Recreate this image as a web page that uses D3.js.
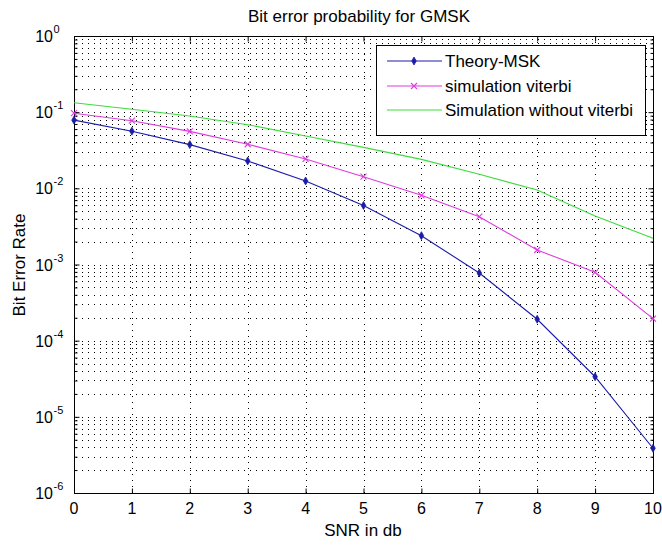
<!DOCTYPE html>
<html><head><meta charset="utf-8">
<script src="https://cdn.jsdelivr.net/npm/d3@7"></script>
<style>
html,body{margin:0;padding:0;background:#fff;}
svg{display:block;font-family:"Liberation Sans",Arial,Helvetica,sans-serif;}
</style></head>
<body>
<svg id="chart" width="662" height="545"></svg>
<script>
const snr = [0,1,2,3,4,5,6,7,8,9,10];
const theoryMSK = [0.0786,0.0563,0.0375,0.0229,0.0125,0.00595,0.00239,0.000773,0.000191,0.0000336,0.00000387];
const simViterbi = [0.097,0.0773,0.056,0.0379,0.0243,0.0142,0.0081,0.00424,0.00155,0.00079,0.000195];
const simNoViterbi = [0.133,0.109,0.089,0.0685,0.0487,0.0345,0.024,0.0153,0.0095,0.00433,0.00221];
const xTicks = [0,1,2,3,4,5,6,7,8,9,10];
const yExponents = [0,-1,-2,-3,-4,-5,-6];
const seriesNames = ["Theory-MSK","simulation viterbi","Simulation without viterbi"];
const titleText = "Bit error probability for GMSK";
const xLabel = "SNR in db";
const yLabel = "Bit Error Rate";

const colors = ["#1c1caa","#e03ae0","#3ddc3d"];
const L = 74, R = 653, T = 36, B = 493;
const svg = d3.select("#chart");
const x = d3.scaleLinear().domain([0,10]).range([L,R]);
const y = d3.scaleLog().domain([1e-6,1]).range([B,T]);

// grid
const grid = svg.append("g").attr("stroke","#000").attr("stroke-width",1)
  .attr("stroke-dasharray","1,5").attr("fill","none");
xTicks.slice(1,-1).forEach(v=>{
  grid.append("line").attr("x1",Math.round(x(v))+0.5).attr("x2",Math.round(x(v))+0.5)
    .attr("y1",T).attr("y2",B);
});
const yGridVals = [];
for (let e=-6;e<0;e++){ for(let m=1;m<10;m++){ yGridVals.push(m*Math.pow(10,e)); } }
yGridVals.filter(v=>v>1e-6).forEach(v=>{
  const yy = Math.round(y(v))+0.5;
  grid.append("line").attr("x1",L+2).attr("x2",R).attr("y1",yy).attr("y2",yy);
});

// axes with ticks inward
const axisBottom = d3.axisBottom(x).tickValues(xTicks).tickSizeInner(-5).tickSizeOuter(0).tickFormat("");
const axisTop = d3.axisTop(x).tickValues(xTicks).tickSizeInner(-5).tickSizeOuter(0).tickFormat("");
svg.append("g").attr("transform",`translate(0,${B+0.5})`).call(axisBottom);
svg.append("g").attr("transform",`translate(0,${T+0.5})`).call(axisTop);
const majorY = yExponents.map(e=>Math.pow(10,e));
const minorY = yGridVals.filter(v=>!majorY.some(m=>Math.abs(m-v)/v<1e-9));
svg.append("g").attr("transform",`translate(${L+0.5},0)`).call(d3.axisLeft(y).tickValues(majorY).tickSizeInner(-5).tickSizeOuter(0).tickFormat(""));
svg.append("g").attr("transform",`translate(${R+0.5},0)`).call(d3.axisRight(y).tickValues(majorY).tickSizeInner(-5).tickSizeOuter(0).tickFormat(""));
svg.append("g").attr("transform",`translate(${L+0.5},0)`).call(d3.axisLeft(y).tickValues(minorY).tickSizeInner(-3).tickSizeOuter(0).tickFormat(""));
svg.append("g").attr("transform",`translate(${R+0.5},0)`).call(d3.axisRight(y).tickValues(minorY).tickSizeInner(-3).tickSizeOuter(0).tickFormat(""));
svg.selectAll(".domain").remove();
svg.selectAll(".tick line").attr("stroke","#000");
svg.append("rect").attr("x",L+0.5).attr("y",T+0.5).attr("width",R-L).attr("height",B-T)
  .attr("fill","none").attr("stroke","#000").attr("stroke-width",1);

// tick labels
svg.append("g").selectAll("text").data(xTicks).join("text")
  .attr("x",d=>x(d)).attr("y",514).attr("text-anchor","middle")
  .attr("font-size",16).attr("fill","#000").text(d=>d);
const yl = svg.append("g");
yExponents.forEach(e=>{
  const yy = y(Math.pow(10,e));
  yl.append("text").attr("x",53).attr("y",yy+6).attr("text-anchor","end")
    .attr("font-size",16).attr("fill","#000").text("10");
  yl.append("text").attr("x",53.5).attr("y",yy-3).attr("text-anchor","start")
    .attr("font-size",11).attr("fill","#000").text(e===0?"0":"-"+(-e));
});

// lines
const line = d3.line().x((d,i)=>x(snr[i])).y(d=>y(d));
const data = [theoryMSK, simViterbi, simNoViterbi];
const plot = svg.append("g");
data.forEach((vals,k)=>{
  plot.append("path").attr("d",line(vals)).attr("fill","none")
    .attr("stroke",colors[k]).attr("stroke-width",1.1);
});
function dot(g,cx,cy,c){
  g.append("path").attr("d",d3.symbol(d3.symbolDiamond,18)()).attr("transform",`translate(${cx},${cy})`)
    .attr("fill",c).attr("stroke",c).attr("stroke-width",0.8);
}
function cross(g,cx,cy,c){
  const s=3;
  g.append("path").attr("d",`M${cx-s},${cy-s}L${cx+s},${cy+s}M${cx-s},${cy+s}L${cx+s},${cy-s}`)
    .attr("stroke",c).attr("stroke-width",1.1).attr("fill","none");
}
theoryMSK.forEach((v,i)=>dot(plot,x(snr[i]),y(v),colors[0]));
simViterbi.forEach((v,i)=>cross(plot,x(snr[i]),y(v),colors[1]));

// legend
const lg = svg.append("g");
lg.append("rect").attr("x",376.5).attr("y",45.5).attr("width",269).attr("height",90)
  .attr("fill","#fff").attr("stroke","#000").attr("stroke-width",1);
const rows=[61,86,110];
seriesNames.forEach((n,k)=>{
  lg.append("line").attr("x1",387).attr("x2",442).attr("y1",rows[k]).attr("y2",rows[k])
    .attr("stroke",colors[k]).attr("stroke-width",1.1);
  if(k===0) dot(lg,414,rows[k],colors[0]);
  if(k===1) cross(lg,414,rows[k],colors[1]);
  lg.append("text").attr("x",445).attr("y",rows[k]+6).attr("font-size",17).attr("fill","#000").text(n);
});

// titles
svg.append("text").attr("x",359).attr("y",22).attr("text-anchor","middle")
  .attr("font-size",17).attr("fill","#000").text(titleText);
svg.append("text").attr("x",363).attr("y",536).attr("text-anchor","middle")
  .attr("font-size",17).attr("fill","#000").text(xLabel);
svg.append("text").attr("transform","translate(25,265) rotate(-90)").attr("text-anchor","middle")
  .attr("font-size",17).attr("fill","#000").text(yLabel);
</script>
</body></html>
